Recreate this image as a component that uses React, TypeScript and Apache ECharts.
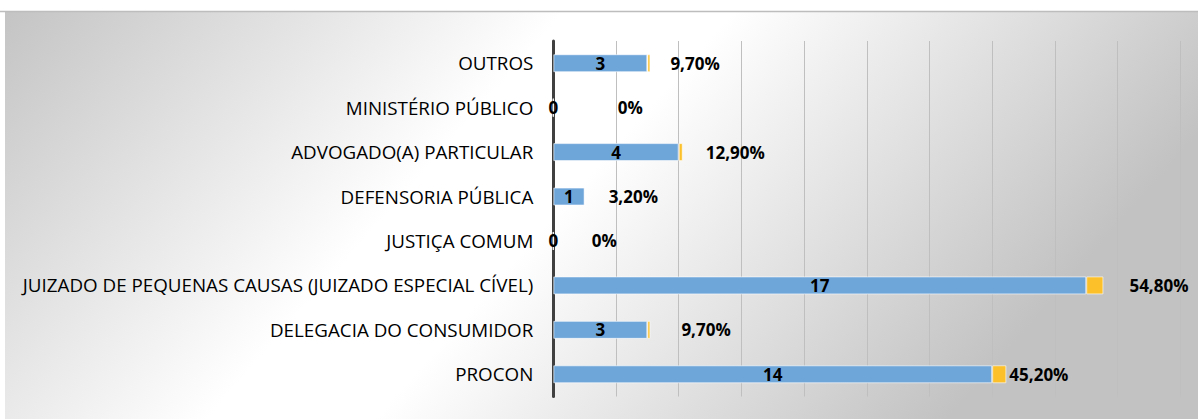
import React, { useEffect, useRef } from "react";
import * as echarts from "echarts";

const categories = [
  "PROCON",
  "DELEGACIA DO CONSUMIDOR",
  "JUIZADO DE PEQUENAS CAUSAS (JUIZADO ESPECIAL CÍVEL)",
  "JUSTIÇA COMUM",
  "DEFENSORIA PÚBLICA",
  "ADVOGADO(A) PARTICULAR",
  "MINISTÉRIO PÚBLICO",
  "OUTROS",
];
const counts = [14, 3, 17, 0, 1, 4, 0, 3];
const percents = [45.2, 9.7, 54.8, 0, 3.2, 12.9, 0, 9.7];

// label gaps (style only)
const pctLabelGaps = [3, 31, 26, 38, 23, 23, 64, 20];

const FONT = "'Open Sans', 'Noto Sans', sans-serif";

function fmtPct(p: number): string {
  if (p === 0) return "0%";
  return p.toFixed(2).replace(".", ",") + "%";
}

export default function App() {
  const ref = useRef<HTMLDivElement>(null);
  useEffect(() => {
    if (!ref.current) return;
    const chart = echarts.init(ref.current, null, { renderer: "svg" });
    chart.setOption({
      animation: false,
      backgroundColor: "#ffffff",
      graphic: [
        {
          type: "rect",
          z: -10,
          silent: true,
          shape: { x: 5, y: 12, width: 1193, height: 407 },
          style: {
            fill: new echarts.graphic.LinearGradient(0, 0, 1, 0.3, [
              { offset: 0, color: "#c4c4c4" },
              { offset: 0.43, color: "#ffffff" },
              { offset: 0.56, color: "#ffffff" },
              { offset: 1, color: "#c2c2c2" },
            ]),
          },
        },
        {
          type: "line",
          z: -9,
          silent: true,
          shape: { x1: 0, y1: 11.5, x2: 1198, y2: 11.5 },
          style: { stroke: "#bdbdbd", lineWidth: 1.5 },
        },
      ],
      grid: { left: 553.3, right: 17.7, top: 41, bottom: 22.5, containLabel: false },
      xAxis: {
        type: "value",
        min: 0,
        max: 20,
        interval: 2,
        axisLabel: { show: false },
        axisLine: { show: false },
        axisTick: { show: false },
        splitLine: { show: true, lineStyle: { color: "#bfbfbf", width: 1 } },
      },
      yAxis: {
        type: "category",
        data: categories,
        axisTick: { show: false },
        axisLine: { show: true, lineStyle: { color: "#404040", width: 3 } },
        axisLabel: {
          margin: 20,
          fontFamily: FONT,
          fontSize: 18.8,
          color: "#000000",
        },
      },
      series: [
        {
          type: "bar",
          stack: "total",
          barWidth: 18,
          data: counts,
          itemStyle: {
            color: "#6fa6da",
            borderColor: "rgba(255,255,255,0.6)",
            borderWidth: 1,
          },
          label: {
            show: true,
            position: "inside",
            fontFamily: FONT,
            fontSize: 17,
            fontWeight: "bold",
            color: "#000000",
          },
        },
        {
          type: "bar",
          stack: "total",
          barWidth: 18,
          data: percents.map((p, i) => ({
            value: p / 100,
            label: { distance: pctLabelGaps[i] },
          })),
          itemStyle: {
            color: "#fbc02a",
            borderColor: "rgba(255,255,255,0.6)",
            borderWidth: 1,
          },
          label: {
            show: true,
            position: "right",
            fontFamily: FONT,
            fontSize: 17,
            fontWeight: "bold",
            color: "#000000",
            formatter: (p: any) => fmtPct(percents[p.dataIndex]),
          },
        },
      ],
    });
    return () => chart.dispose();
  }, []);
  return (
    <div
      ref={ref}
      style={{ position: "fixed", left: 0, top: 0, width: 1198, height: 419 }}
    />
  );
}
